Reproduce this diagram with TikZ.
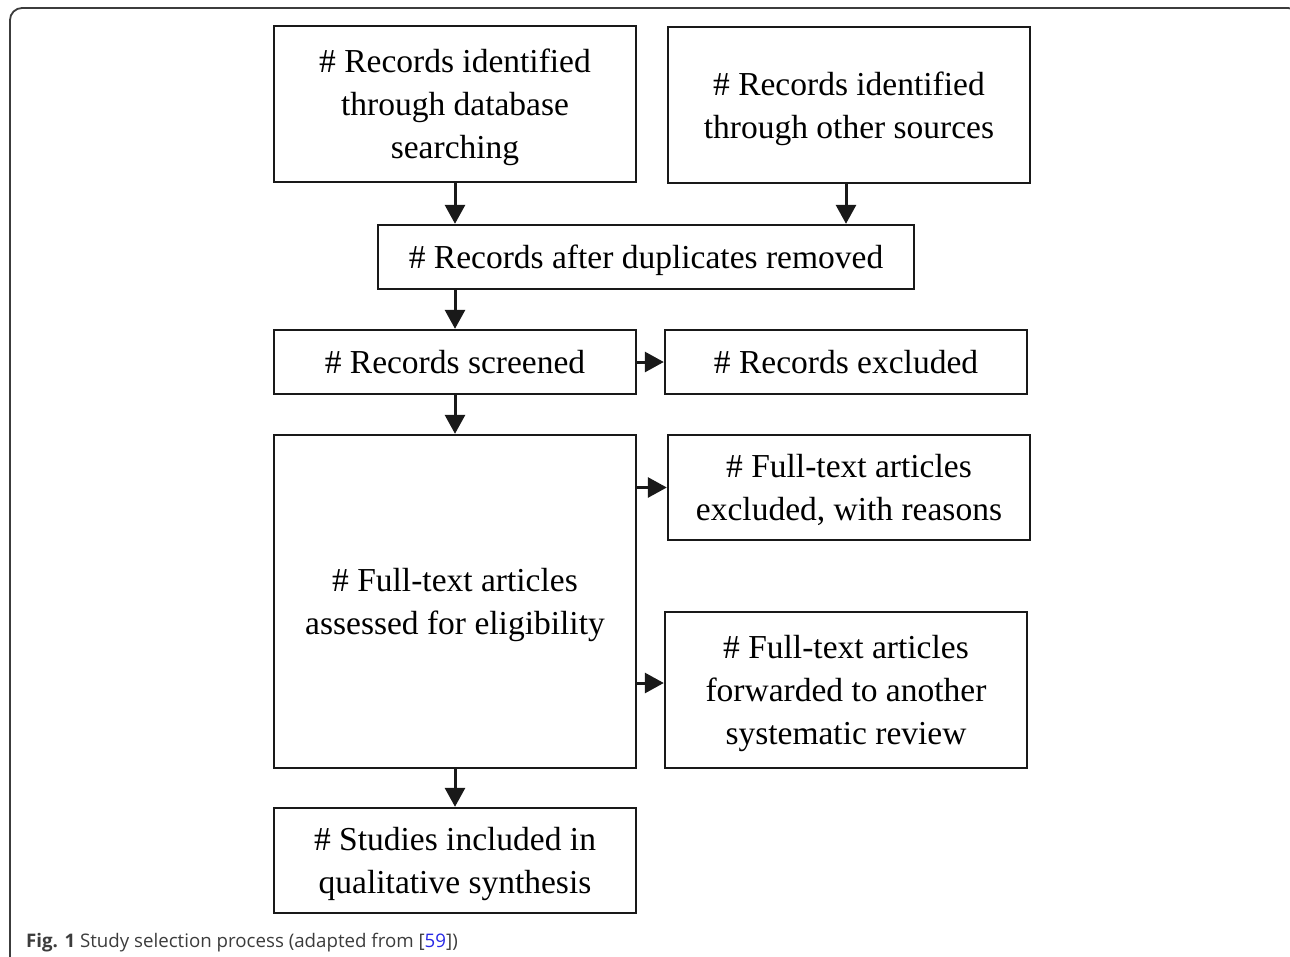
\documentclass[tikz,border=0pt]{standalone}
\usepackage{fontspec}
\setmainfont{Liberation Serif}
\newfontfamily\capfont{Open Sans}
\usetikzlibrary{arrows.meta}
\definecolor{linkblue}{RGB}{40,40,230}
\definecolor{capgray}{RGB}{60,60,60}
\tikzset{
  box/.style={draw=black!90, line width=2.4pt, inner sep=0pt, align=center, text depth=0pt,
    font=\fontsize{33.5}{43}\selectfont},
  arr/.style={draw=black!90, line width=3pt, -{Triangle[length=19pt,width=20pt]}, shorten >=0pt},
}
\begin{document}
\begin{tikzpicture}[x=1pt,y=-1pt]
\useasboundingbox (0,0) rectangle (1290,956);
% outer frame
\draw[capgray, line width=1.8pt, rounded corners=12pt] (10,970) -- (10,8) -- (1300,8) -- (1300,40);
% boxes
\node[box, minimum width=362pt, minimum height=156pt] (A) at (455,104) {\# Records identified\\through database\\searching};
\node[box, minimum width=362pt, minimum height=156pt] (B) at (849,105) {\# Records identified\\through other sources};
\node[box, minimum width=536pt, minimum height=64pt] (C) at (646,257) {\# Records after duplicates removed};
\node[box, minimum width=362pt, minimum height=64pt] (D) at (455,362) {\# Records screened};
\node[box, minimum width=362pt, minimum height=64pt] (E) at (846,362) {\# Records excluded};
\node[box, minimum width=362pt, minimum height=333pt] (F) at (455,601.5) {\# Full-text articles\\assessed for eligibility};
\node[box, minimum width=362pt, minimum height=105pt] (G) at (849,487.5) {\# Full-text articles\\excluded, with reasons};
\node[box, minimum width=362pt, minimum height=156pt] (H) at (846,690) {\# Full-text articles\\forwarded to another\\systematic review};
\node[box, minimum width=362pt, minimum height=105pt] (I) at (455,860.5) {\# Studies included in\\qualitative synthesis};
% connectors
\draw[arr] (A.south) -- (A.south |- C.north);
\draw[arr] ([xshift=-3pt]B.south) -- ([xshift=-3pt]B.south |- C.north);
\draw[arr] (C.south -| D.north) -- (D.north);
\draw[arr] (D.east) -- (E.west);
\draw[arr] (D.south) -- (F.north);
\draw[arr] (G.west -| F.east) -- (G.west);
\draw[arr] ([yshift=7pt]H.west -| F.east) -- ([yshift=7pt]H.west);
\draw[arr] (F.south) -- (I.north);
% caption
\node[anchor=base west, inner sep=0pt, font=\capfont\fontsize{18.7}{22}\selectfont, text=capgray] (cap) at (26,947)
  {\textbf{Fig. 1} Study selection process (adapted from [\textcolor{linkblue}{59}])};
\end{tikzpicture}
\end{document}
